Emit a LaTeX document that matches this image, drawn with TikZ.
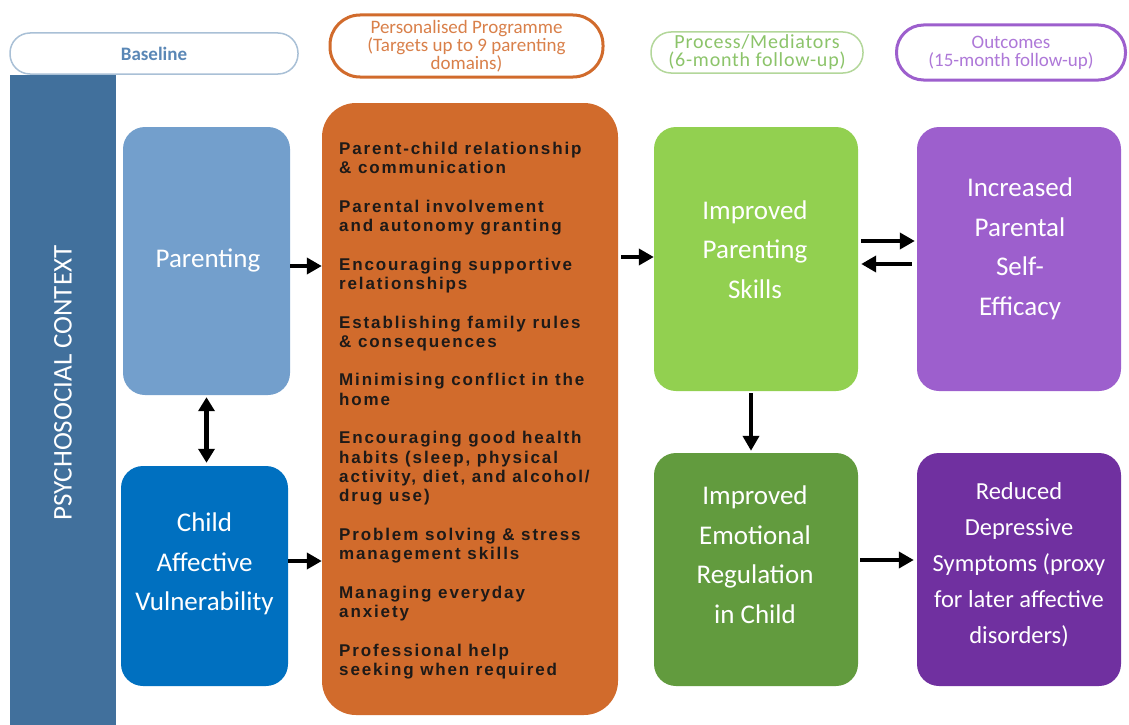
\documentclass[tikz,border=0pt]{standalone}
\usepackage{fontspec}
\setmainfont{Carlito}
\newfontfamily\progfont[LetterSpace=11]{Liberation Sans}
\usetikzlibrary{arrows.meta}
\definecolor{sidec}{HTML}{41709C}
\definecolor{parc}{HTML}{739FCC}
\definecolor{childc}{HTML}{0070C0}
\definecolor{orangec}{HTML}{D16B2C}
\definecolor{lgreen}{HTML}{92D050}
\definecolor{dgreen}{HTML}{629B3E}
\definecolor{lpurple}{HTML}{9D5FCD}
\definecolor{dpurple}{HTML}{7030A0}
\definecolor{baseborder}{HTML}{A9C0D6}
\definecolor{basetext}{HTML}{5A87B6}
\definecolor{progtextc}{HTML}{D9804A}
\definecolor{procborder}{HTML}{B3D79A}
\definecolor{proctext}{HTML}{8CC46A}
\definecolor{outtext}{HTML}{AE78D8}
\definecolor{darktext}{HTML}{1E1A18}
\begin{document}
\begin{tikzpicture}[x=1pt,y=-1pt,
  box/.style={rectangle, rounded corners=22pt, inner sep=0pt, draw=none},
  boxtext/.style={text=white, align=center, inner sep=0pt, font=\fontsize{27}{39.5}\selectfont},
  pill/.style={rectangle, fill=white, align=center, inner sep=0pt},
  arr/.style={line width=4.5pt, -{Triangle[length=15pt,width=16pt]}},
  dbl/.style={line width=4.5pt, {Triangle[length=14pt,width=16pt]}-{Triangle[length=14pt,width=16pt]}}
]
\useasboundingbox (0,0) rectangle (1129,725);

% side bar
\node[rectangle, fill=sidec, minimum width=106pt, minimum height=650pt, inner sep=0pt] (side) at (63,400) {};
\node[rotate=90, text=white, inner sep=0pt, font=\fontsize{27}{30}\selectfont] (sidetxt) at (63,383) {PSYCHOSOCIAL CONTEXT};

% header pills
\node[pill, draw=baseborder, line width=1.5pt, rounded corners=20pt, minimum width=288pt, minimum height=41pt,
      text=basetext, font=\fontsize{19}{20}\selectfont\bfseries] (hbase) at (154,53.5) {Baseline};
\node[pill, draw=orangec, line width=3pt, rounded corners=30pt, minimum width=273pt, minimum height=62pt,
      text=progtextc, font=\fontsize{19}{18}\selectfont] (hprog) at (466.5,46) {Personalised Programme\\(Targets up to 9 parenting\\domains)};
\node[pill, draw=procborder, line width=1.5pt, rounded corners=20pt, minimum width=212pt, minimum height=41pt,
      text=proctext, font=\fontsize{20}{18}\selectfont\addfontfeature{LetterSpace=4}] (hproc) at (757,52.5) {Process/Mediators\\(6-month follow-up)};
\node[pill, draw=lpurple, line width=3pt, rounded corners=27pt, minimum width=229pt, minimum height=55pt,
      text=outtext, font=\fontsize{19}{18}\selectfont] (hout) at (1011,52.5) {Outcomes\\(15-month follow-up)};

% boxes
\node[box, fill=parc, minimum width=167pt, minimum height=268pt] (par) at (206.5,261) {};
\node[boxtext] (partxt) at (208,260) {Parenting};

\node[box, fill=childc, minimum width=167pt, minimum height=220pt] (child) at (204.5,576) {};
\node[boxtext] (childtxt) at (204.5,564) {Child\\Affective\\Vulnerability};

\node[box, fill=orangec, rounded corners=34pt, minimum width=296pt, minimum height=612pt] (prog) at (470,409) {};
\node[anchor=west, align=left, inner sep=0pt, text=darktext,
      font=\fontsize{17}{19.3}\selectfont\progfont\bfseries] (progtxt) at (339,410.5) {%
Parent-child relationship\\
\& communication\\[19.3pt]
Parental involvement\\
and autonomy granting\\[19.3pt]
Encouraging supportive\\
relationships\\[19.3pt]
Establishing family rules\\
\& consequences\\[19.3pt]
Minimising conflict in the\\
home\\[19.3pt]
Encouraging good health\\
habits (sleep, physical\\
activity, diet, and alcohol/\\
drug use)\\[19.3pt]
Problem solving \& stress\\
management skills\\[19.3pt]
Managing everyday\\
anxiety\\[19.3pt]
Professional help\\
seeking when required};

\node[box, fill=lgreen, minimum width=204pt, minimum height=264pt] (ips) at (756,259) {};
\node[boxtext] (ipstxt) at (755,249.5) {Improved\\Parenting\\Skills};

\node[box, fill=lpurple, minimum width=204pt, minimum height=264pt] (pse) at (1019,259) {};
\node[boxtext] (psetxt) at (1020,249) {Increased\\Parental\\Self-\\Efficacy};

\node[box, fill=dgreen, minimum width=204pt, minimum height=233pt] (ier) at (756,569.5) {};
\node[boxtext] (iertxt) at (755,554.5) {Improved\\Emotional\\Regulation\\in Child};

\node[box, fill=dpurple, minimum width=204pt, minimum height=233pt] (rds) at (1019,569.5) {};
\node[boxtext, font=\fontsize{24.5}{36}\selectfont] (rdstxt) at (1019,564.5) {Reduced\\Depressive\\Symptoms (proxy\\for later affective\\disorders)};

% arrows
\draw[arr] ([yshift=-5pt]par.east) -- ([yshift=-5pt]par.east -| prog.west);
\draw[arr] ([yshift=15pt]child.east) -- ([yshift=15pt]child.east -| prog.west);
\draw[dbl, shorten <=2pt, shorten >=3pt] (par.south) -- (par.south |- child.north);
\draw[arr] ([yshift=152pt,xshift=3pt]prog.east) -- ([yshift=152pt]prog.east -| ips.west);
\draw[arr] ([xshift=-5pt,yshift=-2pt]ips.south) -- ([xshift=-5pt,yshift=2pt]ips.south |- ier.north);
\draw[arr] ([yshift=18pt,xshift=3pt]ips.east) -- ([yshift=18pt,xshift=-2pt]ips.east -| pse.west);
\draw[arr] ([yshift=-5pt,xshift=-5pt]pse.west) -- ([yshift=-5pt,xshift=3pt]pse.west -| ips.east);
\draw[arr] ([yshift=9.5pt,xshift=2pt]ier.east) -- ([yshift=9.5pt,xshift=-3pt]ier.east -| rds.west);
\end{tikzpicture}
\end{document}
